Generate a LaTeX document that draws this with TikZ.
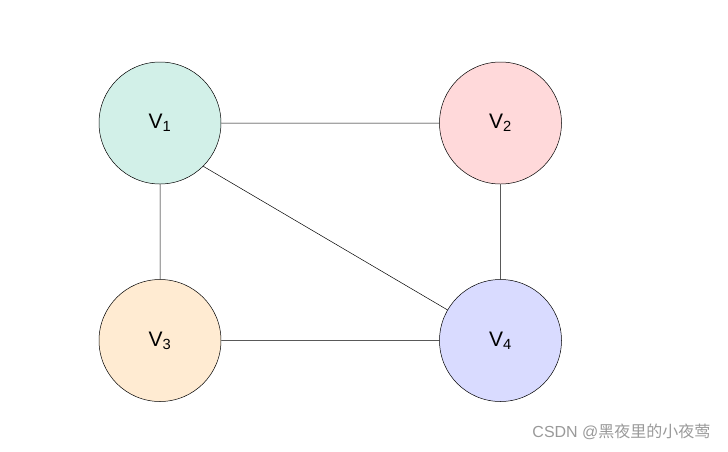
\documentclass[tikz,border=0pt]{standalone}
\usepackage{fontspec}
\setmainfont{Liberation Sans}
\newfontfamily\cjk{Noto Sans CJK SC}
\usetikzlibrary{positioning}
\definecolor{vgreen}{HTML}{D2F0E8}
\definecolor{vred}{HTML}{FFD9DA}
\definecolor{vorange}{HTML}{FFEBD2}
\definecolor{vblue}{HTML}{D9DBFF}
\tikzset{vertex/.style={shape=circle,draw,line width=0.5pt,minimum size=122pt,inner sep=0pt,font=\fontsize{21}{25}\selectfont}}
\begin{document}
\begin{tikzpicture}[x=1pt,y=-1pt]
		\useasboundingbox (0,0) rectangle (728,451);
		\node(v1) [vertex,fill=vgreen] at (160,123) {V\textsubscript{1}};
		\node(v2) [vertex,fill=vred,right=218pt of v1] {V\textsubscript{2}};
		\node(v3) [vertex,fill=vorange,below=95pt of v1] {V\textsubscript{3}};
		\node(v4) [vertex,fill=vblue,below=95pt of v2] {V\textsubscript{4}};
		\path[draw,line width=0.5pt]
			(v1) -- (v2)
			(v1) -- (v3)
			(v1.-45) -- (v4.150)
			(v2) -- (v4)
			(v3) -- (v4);
		\node(mark) [anchor=east,text=gray!80,font=\fontsize{16}{18}\selectfont] at (714,432) {CSDN @{\cjk 黑夜里的小夜莺}};
	\end{tikzpicture}
\end{document}
